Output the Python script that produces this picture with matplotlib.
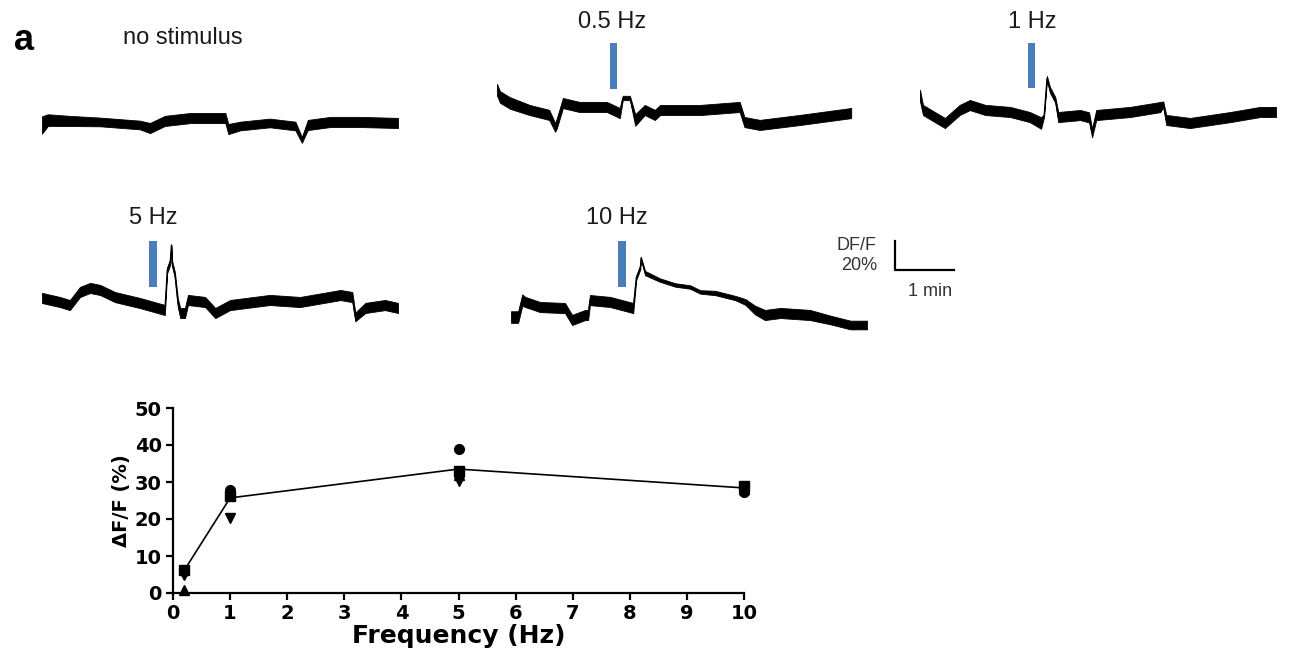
import numpy as np
import matplotlib.pyplot as plt

plt.rcParams['font.family'] = ['Liberation Sans', 'DejaVu Sans']

W, H = 1289, 654
PX_PER_PCT = 1.45      # 20 % dF/F  ~ 29 px
TRACE_W = 356          # 6 min of recording
YLO, YHI = -35, 55

# --- traces: time (min), centre dF/F (%), half width of noise band (%) ---
t_none = [0, 0.10, 0.47, 0.98, 1.65, 1.82, 2.07, 2.50, 3.09, 3.14, 3.34, 3.84, 4.27, 4.38, 4.48, 4.86, 5.36, 6.0]
v_none = [0, 3.4, 2.8, 2.1, 0, -2.1, 2.8, 4.8, 4.8, -2.8, -0.7, 1.4, -0.7, -10.3, 0, 2.1, 2.1, 1.4]
w_none = [6, 4, 3.5, 3, 3, 3.5, 3.5, 3.5, 3.5, 3.5, 3, 3, 3, 2, 3.5, 3.5, 3.5, 3.5]

t_05 = [0, 0.05, 0.22, 0.55, 0.88, 0.98, 1.01, 1.11, 1.39, 1.85, 2.07, 2.12, 2.24, 2.33, 2.49, 2.66, 2.75, 3.42, 4.09, 4.17, 4.43, 5.10, 5.97]
v_05 = [14, 9, 4.8, 0, -3.4, -12, -9, 4.8, 2.1, 2.1, -2.1, 8.3, 8.3, -6.9, 0, -3.4, 0, 0, 2.1, -8.3, -10.3, -6.9, -2.1]
w_05 = [4, 4, 4, 3.5, 3.5, 3, 3.5, 3.5, 3.5, 3.5, 3.5, 1.5, 1.5, 4, 3.5, 3.5, 3.5, 3.5, 3.5, 3.5, 3.5, 3.5, 3.5]

t_1 = [0, 0.05, 0.25, 0.42, 0.67, 0.84, 1.10, 1.52, 1.85, 2.04, 2.09, 2.14, 2.19, 2.28, 2.33, 2.70, 2.85, 2.90, 2.97, 3.54, 4.05, 4.10, 4.15, 4.55, 5.23, 5.73, 6.0]
v_1 = [12, 2.1, -2.8, -6.9, 2.1, 5.5, 2.1, 0.7, -2.8, -6.9, -2, 24, 16, 9, -2.8, -1.4, -3, -13.8, -1.4, 0.7, 4.1, 6, -4.8, -6.9, -2.8, 0.7, 0.7]
w_1 = [4, 3.5, 3.5, 3.5, 3.5, 3.5, 3.5, 3.5, 3.5, 4, 1, 1.5, 2, 2, 3.5, 3.5, 3.5, 3, 3.5, 3.5, 3.5, 2, 3.5, 3.5, 3.5, 3.5, 3.5]

t_5 = [0, 0.30, 0.47, 0.64, 0.81, 0.98, 1.23, 1.65, 2.07, 2.11, 2.16, 2.18, 2.19, 2.24, 2.29, 2.33, 2.41, 2.46, 2.75, 2.92, 3.17, 3.84, 4.35, 5.03, 5.23, 5.28, 5.45, 5.78, 6.0]
v_5 = [2.8, 0, -2.1, 6.9, 9.7, 8.3, 3.4, -0.7, -5.5, 22, 27.6, 39.3, 27, 18.6, -0.7, -7.6, -7.6, 1.4, 0, -7.6, -2.1, 1.4, 0, 4.8, 3.4, -10.3, -4.1, -2.1, -4.1]
w_5 = [3.5, 3.5, 3.5, 3.5, 3.5, 3.5, 3.5, 3.5, 3.5, 2, 2, 0.5, 2, 2, 3, 3.5, 3.5, 3.5, 3.5, 3.5, 3.5, 3.5, 3.5, 3.5, 3.5, 3, 3.5, 3.5, 3.5]

t_10 = [0, 0.12, 0.19, 0.24, 0.49, 0.91, 1.03, 1.25, 1.30, 1.33, 1.67, 2.06, 2.11, 2.18, 2.19, 2.26, 2.51, 2.77, 3.02, 3.19, 3.44, 3.78, 3.95, 4.11, 4.28, 4.54, 5.04, 5.38, 5.72, 6.0]
v_10 = [-8.3, -8.3, 3.4, 2.1, -1.4, -2.1, -10.3, -6.9, -6.9, 3.4, 2.1, -2.1, 18.6, 26.2, 32.4, 22, 17.2, 13.8, 12.4, 9.0, 8.3, 4.8, 2.1, -3.4, -6.9, -5.5, -6.9, -10.3, -13.8, -13.8]
w_10 = [4, 4, 4, 3.5, 3.5, 3.5, 3.5, 3.5, 3.5, 3.5, 3.5, 3.5, 1.5, 1.5, 0.8, 1.5, 1.2, 1.2, 1.2, 1.2, 1.5, 1.5, 2, 3, 3.5, 3.5, 3.5, 3, 3, 3]

# stimulus bars: (onset min, offset min, bottom %, top %)
stim_05 = (1.91, 2.02, 14.5, 46.2)
stim_1 = (1.82, 1.94, 17.2, 48.3)
stim_5 = (1.80, 1.94, 10.3, 42.0)
stim_10 = (1.80, 1.94, 12.4, 44.1)

# --- summary plot ---
freq = [0.2, 1, 5, 10]
resp_circle = [6.0, 27.8, 38.9, 27.2]
resp_square = [6.2, 26.2, 33.0, 28.8]
resp_tri_up = [0.8, 27.0, 31.8, 28.0]
resp_tri_down = [5.0, 20.3, 30.3, 28.0]
resp_mean = [6.2, 25.7, 33.5, 28.4]

fig = plt.figure(figsize=(W / 100, H / 100), dpi=100)


def trace_axes(x0, base_y):
    """axes whose 0 % level sits at pixel row base_y"""
    h = (YHI - YLO) * PX_PER_PCT
    top = base_y - YHI * PX_PER_PCT
    ax = fig.add_axes([x0 / W, 1 - (top + h) / H, TRACE_W / W, h / H])
    ax.set_xlim(0, 6)
    ax.set_ylim(YLO, YHI)
    ax.axis('off')
    return ax


def draw_trace(ax, t, v, w, stim=None):
    t = np.array(t)
    v = np.array(v)
    w = np.array(w)
    ax.fill_between(t, v - w, v + w, color='black', lw=0.6)
    ax.plot(t, v, color='black', lw=0.8)
    if stim is not None:
        on, off, lo, hi = stim
        ax.bar((on + off) / 2, hi - lo, bottom=lo, width=off - on,
               color='#4a7ebb', clip_on=False)


traces = [
    (42, 125, t_none, v_none, w_none, None),
    (497, 110, t_05, v_05, w_05, stim_05),
    (920, 113, t_1, v_1, w_1, stim_1),
    (42, 302, t_5, v_5, w_5, stim_5),
    (511, 305, t_10, v_10, w_10, stim_10),
]
for x0, base, t, v, w, stim in traces:
    ax = trace_axes(x0, base)
    draw_trace(ax, t, v, w, stim)

# trace labels
labels = [("no stimulus", 123, 38, 'left'), ("0.5 Hz", 612, 22, 'center'),
          ("1 Hz", 1032, 22, 'center'), ("5 Hz", 153, 218, 'center'),
          ("10 Hz", 617, 218, 'center')]
for txt, x, y, ha in labels:
    fig.text(x / W, 1 - y / H, txt, ha=ha, va='center', fontsize=17, color='#1a1a1a')

fig.text(24 / W, 1 - 40 / H, "a", ha='center', va='center', fontsize=26, fontweight='bold')

# scale bar: 1 min x 20 %
sb = fig.add_axes([895 / W, 1 - 270 / H, 59.3 / W, 20 * PX_PER_PCT / H])
sb.set_xlim(0, 1)
sb.set_ylim(0, 20)
sb.axis('off')
sb.plot([0, 0, 1], [20, 0, 0], color='black', lw=1.6, clip_on=False)
fig.text(877 / W, 1 - 245 / H, "DF/F", ha='right', va='center', fontsize=13, color='#333333')
fig.text(877 / W, 1 - 266 / H, "20%", ha='right', va='center', fontsize=13, color='#333333')
fig.text(930 / W, 1 - 291 / H, "1 min", ha='center', va='center', fontsize=13, color='#333333')

# summary axes
ax = fig.add_axes([173 / W, 1 - 593 / H, 571 / W, 185 / H])
ax.plot(freq, resp_mean, color='black', lw=1.2, zorder=2)
mk = dict(color='black', ls='none', ms=7, clip_on=False, zorder=3)
ax.plot(freq, resp_circle, marker='o', **mk)
ax.plot(freq, resp_square, marker='s', **mk)
ax.plot(freq, resp_tri_up, marker='^', **mk)
ax.plot(freq, resp_tri_down, marker='v', **mk)
ax.set_xlim(0, 10)
ax.set_ylim(0, 50)
ax.set_xticks(range(0, 11))
ax.set_yticks(range(0, 51, 10))
for s in ['top', 'right']:
    ax.spines[s].set_visible(False)
for s in ['left', 'bottom']:
    ax.spines[s].set_linewidth(1.6)
ax.tick_params(direction='out', length=5, width=1.6, labelsize=14, pad=3)
for lab in ax.get_xticklabels() + ax.get_yticklabels():
    lab.set_fontweight('bold')
    lab.set_family(['DejaVu Sans'])
ax.set_xlabel("Frequency (Hz)", fontsize=18, fontweight='bold', family=['DejaVu Sans'], labelpad=1)
ax.set_ylabel("ΔF/F (%)", fontsize=14, fontweight='bold', family=['DejaVu Sans'], labelpad=3)

fig.savefig("out.png", dpi=100)
